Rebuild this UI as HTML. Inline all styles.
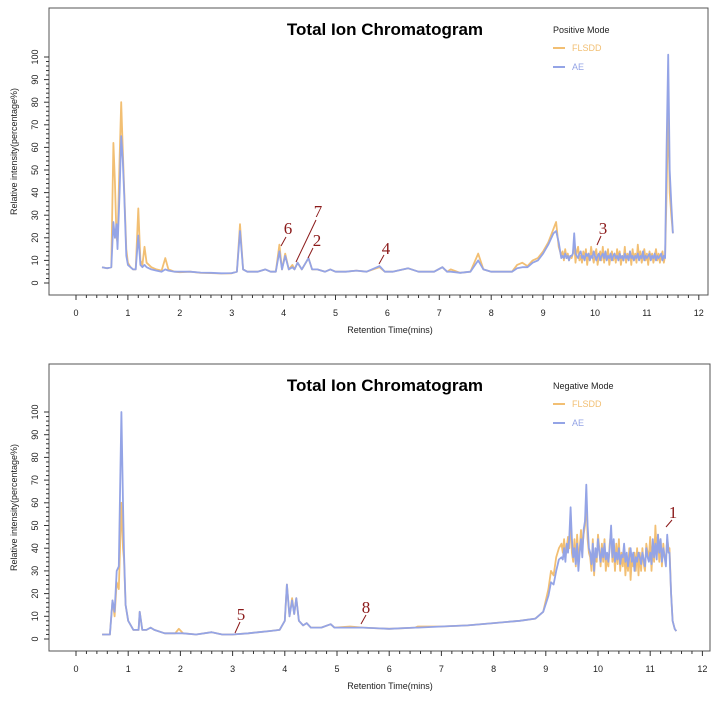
<!DOCTYPE html>
<html><head><meta charset="utf-8"><style>
body{margin:0;background:#fff;}
svg{display:block;font-family:"Liberation Sans",sans-serif;}
</style></head><body>
<svg id="c" width="717" height="707"></svg>
<script>
// Positive mode data (early section, explicit times)
const posTimesA=[0.5,0.6,0.68,0.72,0.75,0.78,0.8,0.84,0.87,0.9,0.93,0.97,1.0,1.05,1.1,1.15,1.2,1.24,1.28,1.32,1.36,1.45,1.55,1.65,1.72,1.78,1.9,2.0,2.2,2.4,2.6,2.8,3.0,3.1,3.16,3.22,3.3,3.5,3.65,3.75,3.85,3.92,3.97,4.03,4.1,4.17,4.21,4.27,4.35,4.48,4.55,4.65,4.8,4.9,5.0,5.2,5.4,5.6,5.85,5.95,6.1,6.4,6.6,6.9,7.06,7.15,7.22,7.4,7.6,7.75,7.85,8.0,8.2,8.4,8.5,8.6,8.7,8.8,8.9,9.0,9.1,9.2,9.25,9.3];
const posFLSDDA=[7,6.5,7,62,45,20,18,55,80,60,40,15,9,7,6,6,33,10,8,16,9,7,6,5.5,11,6,5,4.8,5,4.5,4.4,4.2,4.3,5,26,6,5,5,6,5,5,17,6,13,6,8,6,9,6,11,6,6,5,6,5,5,5.5,5,7,5,5,6.5,5,5,7,5,6,4.5,5,13,6,5,5,5,8,9,7.5,10,11,14,18,24,27,16];
const posAEA=[7,6.5,7,27,20,26,15,40,65,55,38,12,8,7,6,6,21,8,7,8,7,6,5.5,5,6,5.5,5,5,5,4.6,4.5,4.3,4.4,5,23,6,5,5,6,5,5,14,6,12,6,7,6,9,6,11,6,6,5,6,5,5,5.5,5,7.5,5,5,6.5,5,5,7,5,5,4.5,5,10,6,5,5,5,6.5,7,7,9,10,13,17,22,23,18];
// Positive noisy plateau: uniform grid 9.35..11.35 step 0.025
const posFLSDDB=[12,14,10,15,11,13,10,12,11,13,18,9,14,16,10,12,9,14,11,15,8,13,10,16,12,9,13,15,8,12,14,10,16,9,13,11,15,8,12,14,10,13,9,15,11,14,8,12,10,16,9,13,11,14,8,15,10,13,9,17,11,14,9,12,15,10,13,8,14,11,13,9,12,15,10,13,9,12,14,9,12];
const posAEB=[11,12,11,13,11,12,10,12,12,13,22,13,12,11,13,14,11,12,10,13,12,13,10,12,11,14,12,10,12,13,10,12,13,11,14,10,12,11,13,10,12,13,11,12,10,13,11,12,10,13,11,12,10,14,11,12,10,12,11,13,10,12,11,14,10,12,11,12,13,10,12,11,13,10,12,11,12,13,10,12,11];
// Positive final peak
const posTimesC=[11.38,11.41,11.44,11.47,11.5];
const posFLSDDC=[40,79,40,30,22];
const posAEC=[60,101,50,35,22];

// Negative mode data
const negTimesA=[0.5,0.65,0.7,0.74,0.78,0.82,0.87,0.9,0.92,0.95,1.0,1.1,1.2,1.22,1.27,1.35,1.43,1.5,1.7,1.9,1.97,2.05,2.3,2.6,2.8,3.0,3.3,3.5,3.7,3.9,4.0,4.04,4.09,4.14,4.18,4.22,4.27,4.35,4.42,4.5,4.7,4.88,4.95,5.25,5.5,6.0,6.5,6.55,7.0,7.5,8.0,8.5,8.8,8.95,9.05,9.1,9.15,9.2,9.25];
const negFLSDDA=[2,2,17,10,25,22,60,40,35,15,8,4,4,12,4,4,5,4,2.5,2.5,4.5,2.5,2,3,2,2,2.5,3,3.5,4,8,24,10,18,11,18,8,6,7,5,5,6.5,5,5.5,5,4.5,5,5.5,5.5,6,7,8,9,12,22,30,28,36,40];
const negAEA=[2,2,17,12,30,32,100,60,38,15,8,4,4,12,4,4,5,4,2.5,2.5,2.5,2.5,2,3,2,2,2.5,3,3.5,4,8,24,10,17,11,18,8,6,7,5,5,6.5,5,5,5,4.5,5,5,5.5,6,7,8,9,12,19,25,24,30,35];
// Negative noisy plateau: uniform grid 9.3..11.35 step 0.025
const negFLSDDB=[42,38,44,36,40,45,40,55,38,34,44,32,46,36,40,48,40,46,50,64,44,38,36,30,44,28,38,34,46,40,32,42,34,44,30,36,32,42,47,34,40,30,42,33,44,30,38,32,40,28,36,30,40,26,36,32,38,30,40,28,38,30,40,33,30,42,38,36,45,30,40,34,50,38,46,34,44,32,42,36,35,44,40];
const negAEB=[36,35,40,34,42,38,45,58,44,36,40,33,42,30,38,44,36,48,52,68,50,40,38,33,42,30,40,36,44,38,34,40,36,42,35,38,34,40,50,36,44,34,38,35,40,33,37,36,42,34,38,32,36,40,34,38,30,36,34,38,36,33,38,35,32,40,36,34,38,33,44,36,42,35,46,38,44,34,40,36,32,46,38];
const negTimesC=[11.37,11.4,11.43,11.47,11.5];
const negFLSDDC=[40,20,8,4.5,3.5];
const negAEC=[38,20,8,4.5,3.5];

const xTicks=[0,1,2,3,4,5,6,7,8,9,10,11,12];
const yTicks=[0,10,20,30,40,50,60,70,80,90,100];

function grid(a,n,step){const r=[];for(let i=0;i<n;i++)r.push(+(a+i*step).toFixed(3));return r;}
const posTimes=posTimesA.concat(grid(9.35,posAEB.length,0.025),posTimesC);
const posFLSDD=posFLSDDA.concat(posFLSDDB,posFLSDDC);
const posAE=posAEA.concat(posAEB,posAEC);
const negTimes=negTimesA.concat(grid(9.3,negAEB.length,0.025),negTimesC);
const negFLSDD=negFLSDDA.concat(negFLSDDB,negFLSDDC);
const negAE=negAEA.concat(negAEB,negAEC);

const NS="http://www.w3.org/2000/svg";
const svg=document.getElementById('c');
function mk(tag,attrs,parent){const e=document.createElementNS(NS,tag);for(const k in attrs)e.setAttribute(k,attrs[k]);(parent||svg).appendChild(e);return e;}

function chart(cfg){
  const g=mk('g',{});
  
  
  const X=t=>cfg.x0+t*cfg.xs, Y=v=>cfg.y0-v*cfg.ys;
  const fr=mk('rect',{x:cfg.L,y:cfg.T,width:cfg.R-cfg.L,height:cfg.B-cfg.T,fill:'none',stroke:'#555','stroke-width':1},g);
  
  
  for(let t=0;t<=12.001;t+=0.2){
    const major=Math.abs(t-Math.round(t))<0.01;
    mk('line',{x1:X(t),x2:X(t),y1:cfg.B,y2:cfg.B+(major?5:3),stroke:'#333','stroke-width':1},g);
  }
  xTicks.forEach(t=>{const tx=mk('text',{x:X(t),y:cfg.B+21,'font-size':9,'text-anchor':'middle',fill:'#222'},g);tx.textContent=t;
    
    });
  for(let v=0;v<=100;v+=2){
    const major=v%10===0;
    mk('line',{x1:cfg.L,x2:cfg.L-(major?5:3),y1:Y(v),y2:Y(v),stroke:'#333','stroke-width':1},g);
  }
  yTicks.forEach(v=>{const tx=mk('text',{x:0,y:0,'font-size':9,'text-anchor':'middle',fill:'#222',transform:`translate(${cfg.L-11},${Y(v)}) rotate(-90)`},g);tx.textContent=v;
    
    });
  const yl=mk('text',{x:0,y:0,'font-size':9,'text-anchor':'middle',fill:'#222',transform:`translate(17,${(cfg.T+cfg.B)/2}) rotate(-90)`},g);
  yl.textContent='Relative intensity(percentage%)';
  
  
  const xl=mk('text',{x:390,y:cfg.B+38,'font-size':9,'text-anchor':'middle',fill:'#222'},g);
  xl.textContent='Retention Time(mins)';
  
  
  const ti=mk('text',{x:385,y:cfg.T+27,'font-size':17,'font-weight':'bold','text-anchor':'middle',fill:'#000'},g);
  ti.textContent='Total Ion Chromatogram';
  
  
  const series=[[cfg.o,'#f2bf73','series-flsdd'],[cfg.b,'#94a4e6','series-ae']];
  series.forEach(([vals,col,nm])=>{
    const d=cfg.t.map((t,i)=>(i?'L':'M')+X(t).toFixed(1)+','+Y(vals[i]).toFixed(1)).join('');
    const p=mk('path',{d:d,fill:'none',stroke:col,'stroke-width':1.8,'stroke-linejoin':'round'},g);
    
    
  });
  const lt=mk('text',{x:553,y:cfg.T+25,'font-size':9,fill:'#222'},g);lt.textContent=cfg.mode;
  
  
  [['FLSDD','#f2bf73',cfg.T+43],['AE','#94a4e6',cfg.T+62]].forEach(([n,c,y])=>{
    const le=mk('g',{},g);
    
    
    mk('line',{x1:553,x2:565,y1:y-3,y2:y-3,stroke:c,'stroke-width':2},le);
    const tt=mk('text',{x:572,y:y,'font-size':9,fill:c},le);tt.textContent=n;
  });
  cfg.ann.forEach(([lab,tx,ty,x1,y1,x2,y2])=>{
    const a=mk('g',{},g);
    
    
    const t=mk('text',{x:tx,y:ty,'font-size':17,'font-family':'"Liberation Serif",serif',fill:'#8b1a1a','text-anchor':'middle'},a);t.textContent=lab;
    mk('line',{x1:x1,y1:y1,x2:x2,y2:y2,stroke:'#8b1a1a','stroke-width':1},a);
  });
}
chart({name:'positive-mode-chart',L:49,T:8,R:708,B:295,x0:76,xs:51.9,y0:283,ys:2.26,t:posTimes,o:posFLSDD,b:posAE,mode:'Positive Mode',
  ann:[['6',288,234,286,237,281,246],['7',318,217,316,220,296,262],['2',317,246,313,248,308,258],['4',386,254,384,255,379,264],['3',603,234,601,236,597,245]]});
chart({name:'negative-mode-chart',L:49,T:364,R:710,B:651,x0:76,xs:52.2,y0:639,ys:2.27,t:negTimes,o:negFLSDD,b:negAE,mode:'Negative Mode',
  ann:[['1',673,518,672,520,666,527],['5',241,620,240,622,235,633],['8',366,613,366,615,361,624]]});
</script>
</body></html>
